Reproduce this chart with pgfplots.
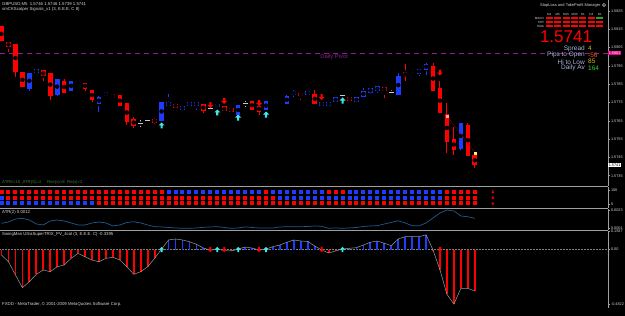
\documentclass[border=0pt]{standalone}
\usepackage{fontspec}
\setmainfont{Liberation Sans}
\usepackage{pgfplots}
\usepackage{pgfplotstable}
\pgfplotsset{compat=1.18}
\definecolor{mtred}{HTML}{FF0000}
\definecolor{mtblue}{HTML}{1E3CFF}
\definecolor{mtcyan}{HTML}{40E8E8}
\definecolor{mtgray}{HTML}{C8C8C8}
\definecolor{sep}{HTML}{A0A0A0}
\definecolor{pivot}{HTML}{8E1E8E}
\definecolor{atrc}{HTML}{1F5A8F}
\definecolor{lbl}{HTML}{D8D8D8}
\definecolor{statc}{HTML}{A8B4D8}
\definecolor{goldc}{HTML}{E0B020}
\definecolor{orc}{HTML}{FF5020}
\definecolor{grc}{HTML}{30D030}
\definecolor{dkgr}{HTML}{3C7A3C}
\newcommand\tf{\fontsize{4.3}{5}\selectfont}
\newcommand\af{\fontsize{3.8}{4}\selectfont}
\pgfdeclareplotmark{uarr}{%
 \pgfpathmoveto{\pgfqpoint{0pt}{\pgfplotmarksize}}%
 \pgfpathlineto{\pgfqpoint{\pgfplotmarksize}{0pt}}%
 \pgfpathlineto{\pgfqpoint{0.35\pgfplotmarksize}{0pt}}%
 \pgfpathlineto{\pgfqpoint{0.35\pgfplotmarksize}{-\pgfplotmarksize}}%
 \pgfpathlineto{\pgfqpoint{-0.35\pgfplotmarksize}{-\pgfplotmarksize}}%
 \pgfpathlineto{\pgfqpoint{-0.35\pgfplotmarksize}{0pt}}%
 \pgfpathlineto{\pgfqpoint{-\pgfplotmarksize}{0pt}}%
 \pgfpathclose\pgfusepathqfill}
\pgfdeclareplotmark{darr}{%
 \pgfpathmoveto{\pgfqpoint{0pt}{-\pgfplotmarksize}}%
 \pgfpathlineto{\pgfqpoint{\pgfplotmarksize}{0pt}}%
 \pgfpathlineto{\pgfqpoint{0.35\pgfplotmarksize}{0pt}}%
 \pgfpathlineto{\pgfqpoint{0.35\pgfplotmarksize}{\pgfplotmarksize}}%
 \pgfpathlineto{\pgfqpoint{-0.35\pgfplotmarksize}{\pgfplotmarksize}}%
 \pgfpathlineto{\pgfqpoint{-0.35\pgfplotmarksize}{0pt}}%
 \pgfpathlineto{\pgfqpoint{-\pgfplotmarksize}{0pt}}%
 \pgfpathclose\pgfusepathqfill}
\pgfdeclareplotmark{cell}{\pgfpathrectangle{\pgfqpoint{-3.5pt}{-1.2pt}}{\pgfqpoint{7pt}{2.4pt}}\pgfusepathqfill}
\pgfdeclareplotmark{sq}{\pgfpathrectangle{\pgfqpoint{-2pt}{-2pt}}{\pgfqpoint{4pt}{4pt}}\pgfusepathqfill}

\pgfplotstableread{
k o h l c
4 1.57828 1.57910 1.57815 1.57910
5 1.57915 1.57928 1.57900 1.57928
8 1.57796 1.57878 1.57787 1.57878
10 1.57818 1.57867 1.57818 1.57867
14 1.57746 1.57786 1.57700 1.57776
15 1.57786 1.57809 1.57786 1.57806
23 1.57654 1.57749 1.57654 1.57749
24 1.57738 1.57800 1.57738 1.57749
26 1.57714 1.57733 1.57714 1.57727
27 1.57736 1.57749 1.57736 1.57749
28 1.57736 1.57749 1.57710 1.57749
31 1.57727 1.57740 1.57727 1.57740
34 1.57682 1.57736 1.57682 1.57736
38 1.57714 1.57754 1.57714 1.57754
39 1.57747 1.57767 1.57747 1.57758
40 1.57747 1.57769 1.57747 1.57758
41 1.57747 1.57791 1.57747 1.57786
42 1.57796 1.57818 1.57782 1.57809
44 1.57796 1.57818 1.57796 1.57809
46 1.57736 1.57749 1.57736 1.57749
47 1.57736 1.57749 1.57736 1.57749
48 1.57754 1.57778 1.57754 1.57778
51 1.57754 1.57778 1.57754 1.57778
52 1.57786 1.57828 1.57786 1.57809
53 1.57804 1.57828 1.57796 1.57828
54 1.57815 1.57836 1.57804 1.57836
57 1.57796 1.57913 1.57796 1.57895
59 1.57888 1.57918 1.57888 1.57900
60 1.57910 1.57931 1.57895 1.57931
61 1.57933 1.57965 1.57900 1.57960
66 1.57500 1.57636 1.57490 1.57636
}\up
\pgfplotstableread{
k o h l c
0 1.58164 1.58170 1.58088 1.58088
1 1.58079 1.58082 1.58028 1.58057
2 1.58070 1.58070 1.57888 1.57918
3 1.57913 1.57918 1.57836 1.57836
6 1.57922 1.57928 1.57869 1.57896
7 1.57910 1.57915 1.57764 1.57787
9 1.57867 1.57877 1.57806 1.57806
11 1.57878 1.57878 1.57855 1.57866
12 1.57855 1.57858 1.57815 1.57828
13 1.57818 1.57822 1.57754 1.57767
16 1.57796 1.57796 1.57776 1.57776
17 1.57787 1.57787 1.57736 1.57736
18 1.57746 1.57750 1.57627 1.57645
19 1.57658 1.57672 1.57609 1.57623
22 1.57658 1.57664 1.57636 1.57645
25 1.57740 1.57749 1.57718 1.57724
29 1.57740 1.57740 1.57691 1.57705
32 1.57727 1.57727 1.57705 1.57705
33 1.57718 1.57718 1.57705 1.57705
36 1.57758 1.57758 1.57714 1.57714
37 1.57727 1.57760 1.57683 1.57704
43 1.57800 1.57800 1.57764 1.57787
45 1.57796 1.57818 1.57746 1.57746
50 1.57778 1.57786 1.57764 1.57764
55 1.57831 1.57831 1.57778 1.57815
58 1.57913 1.57960 1.57869 1.57896
62 1.57949 1.57964 1.57815 1.57815
63 1.57828 1.57869 1.57696 1.57696
64 1.57687 1.57749 1.57472 1.57536
65 1.57545 1.57614 1.57463 1.57494
67 1.57627 1.57636 1.57463 1.57463
68 1.57460 1.57460 1.57390 1.57410
}\dn
\pgfplotstableread{
k o h l c
20 1.57636 1.57654 1.57614 1.57636
21 1.57649 1.57658 1.57643 1.57649
30 1.57718 1.57727 1.57710 1.57718
35 1.57746 1.57760 1.57727 1.57746
49 1.57787 1.57800 1.57778 1.57787
56 1.57805 1.57818 1.57791 1.57805
}\dj
\pgfplotstableread{
k atr v r1 r2 r3
0 0.00070 -0.049 r b b
1 0.00086 -0.108 r r b
2 0.00122 -0.225 r r b
3 0.00130 -0.337 r r b
4 0.00110 -0.284 r r b
5 0.00062 -0.219 r r b
6 0.00050 -0.181 r r b
7 0.00098 -0.196 r r b
8 0.00110 -0.152 r r b
9 0.00098 -0.137 r r b
10 0.00074 -0.078 r r b
11 0.00050 -0.034 r r b
12 0.00050 -0.064 r r b
13 0.00074 -0.093 r r b
14 0.00086 -0.108 r r r
15 0.00074 -0.078 r r r
16 0.00038 -0.069 r r r
17 0.00050 -0.093 r r r
18 0.00080 -0.152 r r r
19 0.00089 -0.219 r r r
20 0.00074 -0.196 r r r
21 0.00050 -0.152 r r r
22 0.00029 -0.078 r r r
23 0.00026 0.005 r r r
24 0.00020 0.084 b r r
25 0.00014 0.093 b r r
26 0.00010 0.084 b r r
27 0.00010 0.069 b r r
28 0.00014 0.046 b r r
29 0.00022 0.013 b r r
30 0.00026 -0.005 b r r
31 0.00029 0.004 b r r
32 0.00020 -0.010 b r r
33 0.00010 -0.013 b r r
34 0.00014 0.003 b r r
35 0.00026 0.022 b r r
36 0.00020 0.013 b r r
37 0.00014 -0.004 b r r
38 0.00014 0.004 r r r
39 0.00014 0.025 b r r
40 0.00026 0.040 b b r
41 0.00029 0.064 b b r
42 0.00029 0.084 b b r
43 0.00029 0.075 b b r
44 0.00032 0.071 b b r
45 0.00038 0.031 b b r
46 0.00034 -0.004 b b r
47 0.00010 -0.031 r b r
48 0.00014 -0.013 r b r
49 0.00010 0.004 r b r
50 0.00014 0.011 b b r
51 0.00020 0.016 b b r
52 0.00032 0.040 b b r
53 0.00038 0.064 b b r
54 0.00041 0.075 b b r
55 0.00062 0.055 b b r
56 0.00080 0.034 b b r
57 0.00101 0.093 b b r
58 0.00074 0.113 b b r
59 0.00041 0.113 b b r
60 0.00041 0.113 b b r
61 0.00074 0.130 b b r
62 0.00134 -0.005 b b r
63 0.00194 -0.181 b b r
64 0.00230 -0.396 r r r
65 0.00218 -0.482 r r r
66 0.00158 -0.343 r r r
67 0.00149 -0.343 r r r
68 0.00130 -0.366 r r r
}\ind

\pgfplotsset{
 mtaxis/.style={scale only axis, width=608pt, xmin=-0.22, xmax=87.14,
  anchor=south west, axis x line=none, axis y line*=right,
  y axis line style={draw=sep, line width=1pt},
  tick align=outside, major tick length=2pt,
  ytick style={draw=sep, line width=0.5pt},
  yticklabel style={font=\af, text=lbl, inner sep=0.8pt},
  scaled y ticks=false, clip mode=individual},
 wick/.style={only marks, mark=none, forget plot, error bars/.cd, y dir=both, y explicit, error mark=none, error bar style={line width=1pt, draw=#1}},
 body/.style={only marks, mark=none, forget plot, error bars/.cd, y dir=both, y explicit, error mark=none, error bar style={line width=4.6pt, draw=#1}},
 dotrow/.style={scatter, only marks, point meta=explicit symbolic, scatter/classes={r={mark=sq,mtred}, b={mark=sq,mtblue}}}
}

\begin{document}
\begin{tikzpicture}
\fill[black] (0,0) rectangle (625pt,316pt);
% ---------------- main price panel
\begin{axis}[mtaxis, at={(0pt,130pt)}, height=186pt, ymin=1.572937, ymax=1.583101,
 ytick={1.5735,1.5745,1.5755,1.5765,1.5775,1.5785,1.5795,1.5805,1.5815,1.5825},
 yticklabels={1.5735,1.5745,1.5755,1.5765,1.5775,1.5785,1.5795,1.5805,1.5815,1.5825}]
\addplot[pivot, line width=0.8pt, dash pattern=on 5pt off 4pt] coordinates {(-0.22,1.5802) (87.14,1.5802)};
\addplot[wick=mtblue] table[x=k, y expr={(\thisrow{h}+\thisrow{l})/2}, y error expr={(\thisrow{h}-\thisrow{l})/2}] {\up};
\addplot[body=mtblue] table[x=k, y expr={(\thisrow{o}+\thisrow{c})/2}, y error expr={abs(\thisrow{c}-\thisrow{o})/2+0.00003}] {\up};
\addplot[wick=mtred] table[x=k, y expr={(\thisrow{h}+\thisrow{l})/2}, y error expr={(\thisrow{h}-\thisrow{l})/2}] {\dn};
\addplot[body=mtred] table[x=k, y expr={(\thisrow{o}+\thisrow{c})/2}, y error expr={abs(\thisrow{c}-\thisrow{o})/2+0.00003}] {\dn};
\addplot[wick=mtgray] table[x=k, y expr={(\thisrow{h}+\thisrow{l})/2}, y error expr={(\thisrow{h}-\thisrow{l})/2}] {\dj};
\addplot[only marks, mark=-, mark size=2.6pt, mtgray, mark options={line width=1pt}] table[x=k, y=c] {\dj};
\addplot[only marks, mark=uarr, mark size=3pt, mtcyan] coordinates {(23,1.576243) (31,1.576954) (34,1.57668) (38,1.576844) (49,1.577609)};
\addplot[only marks, mark=darr, mark size=3pt, mtred] coordinates {(30,1.577363) (32,1.577582) (37,1.577473) (46,1.5778) (63,1.579139)};
\addplot[densely dotted, color=red!55!black, line width=0.8pt] coordinates {(64,1.57676) (68.1,1.57472)};
\addplot[only marks, mark=square*, mark size=1.2pt, color=red!35!white] coordinates {(64,1.57676)};
\addplot[only marks, mark=square*, mark size=1.2pt, color=yellow!60!white] coordinates {(68.1,1.57472)};
\node[text=pivot, font=\fontsize{5.8}{6}\selectfont, anchor=west, inner sep=0] at (axis cs:45.8,1.57999) {Daily Pivot};
\node[fill=magenta, text=white, font=\af, anchor=west, inner sep=0.6pt] at (axis cs:87.14,1.5802) {1.5802};
\node[fill=white, text=black, font=\af, anchor=west, inner sep=0.6pt] at (axis cs:87.14,1.5741) {1.5741};
\end{axis}
% ---------------- signal widget (top right)
\begin{axis}[hide axis, scale only axis, width=59pt, height=12pt, xmin=0.5, xmax=7.5, ymin=0.5, ymax=3.5, at={(545pt,288pt)}, anchor=south west, clip=false]
\addplot[only marks, mark=cell, mtred] coordinates {(1,1)(2,1)(3,1)(4,1)(5,1)(6,1)(7,1)(1,2)(2,2)(3,2)(4,2)(5,2)(6,2)(7,2)(1,3)(2,3)(3,3)(4,3)(5,3)(6,3)};
\addplot[only marks, mark=cell, color=grc!80!black] coordinates {(7,3)};
\end{axis}
% ---------------- dots panel
\begin{axis}[mtaxis, at={(0pt,108pt)}, height=21pt, ymin=-25.9, ymax=123.1, ytick={0,100}, yticklabels={0,100}]
\addplot[dotrow] table[x=k, y expr=89, meta=r1] {\ind};
\addplot[dotrow] table[x=k, y expr=47, meta=r2] {\ind};
\addplot[dotrow] table[x=k, y expr=7, meta=r3] {\ind};
\addplot[only marks, mark=darr, mark size=1.6pt, mtred] coordinates {(70.6,89) (70.6,47) (70.6,7)};
\end{axis}
% ---------------- ATR panel
\begin{axis}[mtaxis, at={(0pt,86pt)}, height=21pt, ymin=-0.000104, ymax=0.00242, ytick={0.0001,0.0023}, yticklabels={0.0001,0.0023}]
\addplot[atrc, line width=0.7pt] table[x=k, y=atr] {\ind};
\end{axis}
% ---------------- oscillator panel
\begin{axis}[mtaxis, at={(0pt,8pt)}, height=77pt, ymin=-0.5166, ymax=0.1634,
 ytick={-0.4822,0,0.1587}, yticklabels={-0.4822,0.00,0.1587},
 axis x line*=bottom, x axis line style={draw=sep, line width=1pt},
 xtick={0,4,...,68}, xtick style={draw=sep, line width=0.5pt},
 xticklabels={13 Oct 2009,13 Oct 04:10,13 Oct 04:30,13 Oct 04:50,13 Oct 05:10,13 Oct 05:30,13 Oct 05:50,13 Oct 06:15,13 Oct 06:35,13 Oct 06:55,13 Oct 07:15,13 Oct 07:35,13 Oct 07:55,13 Oct 08:15,13 Oct 08:35,13 Oct 08:55,13 Oct 09:15,13 Oct 09:35},
 xticklabel style={font=\tf, text=lbl, anchor=north west, inner sep=0.5pt, xshift=0.3pt}]
\addplot[gray, densely dotted, line width=0.5pt] coordinates {(-0.22,0) (87.14,0)};
\addplot[ycomb, mtred, line width=1.8pt, restrict y to domain=-1:0] table[x=k, y=v] {\ind};
\addplot[ycomb, mtblue, line width=1.8pt, restrict y to domain=0:1] table[x=k, y=v] {\ind};
\addplot[color=gray!80, line width=0.5pt] table[x=k, y=v] {\ind};
\addplot[only marks, mark=uarr, mark size=2.6pt, mtcyan] coordinates {(23,0) (31,0) (34,0) (38,0) (49,0)};
\addplot[only marks, mark=darr, mark size=2.6pt, mtred] coordinates {(30,0) (32,0) (37,0) (46,0) (63,0)};
\end{axis}
% ---------------- separators
\draw[sep, line width=1.5pt] (0,129.5pt) -- (608pt,129.5pt);
\draw[sep, line width=1.5pt] (0,107.5pt) -- (608pt,107.5pt);
\draw[sep, line width=1.5pt] (0,85.5pt) -- (608pt,85.5pt);
% ---------------- texts
\node[anchor=west, font=\tf, text=lbl, inner sep=0] at (2pt,312pt) {GBPUSD,M5\ \ 1.5746 1.5746 1.5739 1.5741};
\node[anchor=west, font=\tf, text=lbl, inner sep=0] at (2pt,306.5pt) {smCKScalper Signals\_v1 (3, E.E.E. C 8)};
\node[anchor=west, font=\tf, text=dkgr, inner sep=0] at (2pt,133.3pt) {ATR5=10\ \ ATR(5)=4};
\node[anchor=west, font=\tf, text=dkgr, inner sep=0] at (47pt,133.3pt) {Res(x)=8\ \ Re(x)=2};
\node[anchor=west, font=\tf, text=lbl, inner sep=0] at (2pt,103.3pt) {ATR(2) 0.0012};
\node[anchor=west, font=\tf, text=lbl, inner sep=0] at (2pt,82pt) {SwingMan UltraSuperTRIX\_PV\_4col (3, E.E.E. C) -0.3395};
\node[anchor=west, font=\tf, text=lbl, inner sep=0] at (2pt,11.3pt) {FXDD - MetaTrader, © 2001-2009 MetaQuotes Software Corp.};
% widget texts
\node[anchor=west, font=\fontsize{4}{4}\selectfont, text=lbl, inner sep=0] at (540pt,311pt) {StopLoss and TakeProfit Manager};
\draw[lbl, line width=0.5pt] (604pt,311pt) circle (1.6pt);
\node[font=\fontsize{3}{3}\selectfont, text=lbl, inner sep=0] at (549.2pt,302pt) {M1};
\node[font=\fontsize{3}{3}\selectfont, text=lbl, inner sep=0] at (557.6pt,302pt) {M5};
\node[font=\fontsize{3}{3}\selectfont, text=lbl, inner sep=0] at (566.1pt,302pt) {M15};
\node[font=\fontsize{3}{3}\selectfont, text=lbl, inner sep=0] at (574.5pt,302pt) {M30};
\node[font=\fontsize{3}{3}\selectfont, text=lbl, inner sep=0] at (582.9pt,302pt) {H1};
\node[font=\fontsize{3}{3}\selectfont, text=lbl, inner sep=0] at (591.4pt,302pt) {H4};
\node[font=\fontsize{3}{3}\selectfont, text=lbl, inner sep=0] at (599.8pt,302pt) {D1};
\node[anchor=east, font=\fontsize{3}{3}\selectfont, text=lbl, inner sep=0] at (544pt,298pt) {MACD};
\node[anchor=east, font=\fontsize{3}{3}\selectfont, text=lbl, inner sep=0] at (544pt,294pt) {STR};
\node[anchor=east, font=\fontsize{3}{3}\selectfont, text=lbl, inner sep=0] at (544pt,290pt) {EMA};
\node[text=mtred, font=\fontsize{17}{17}\selectfont, inner sep=0] at (566pt,279.5pt) {1.5741};
\node[anchor=east, text=statc, font=\fontsize{6.5}{7}\selectfont, inner sep=0] at (585pt,267.3pt) {Spread};
\node[anchor=west, text=goldc, font=\fontsize{6.5}{7}\selectfont, inner sep=0] at (588pt,267.3pt) {4};
\node[anchor=east, text=statc, font=\fontsize{6.5}{7}\selectfont, inner sep=0] at (585pt,261pt) {Pips to Open};
\node[anchor=west, text=orc, font=\fontsize{6.5}{7}\selectfont, inner sep=0] at (588pt,261pt) {-56};
\node[anchor=east, text=statc, font=\fontsize{6.5}{7}\selectfont, inner sep=0] at (585pt,254.3pt) {Hi to Low};
\node[anchor=west, text=goldc, font=\fontsize{6.5}{7}\selectfont, inner sep=0] at (588pt,254.3pt) {85};
\node[anchor=east, text=statc, font=\fontsize{6.5}{7}\selectfont, inner sep=0] at (585pt,247.7pt) {Daily Av};
\node[anchor=west, text=grc, font=\fontsize{6.5}{7}\selectfont, inner sep=0] at (588pt,247.7pt) {164};
\pgfresetboundingbox
\useasboundingbox (0,0) rectangle (625pt,316pt);
\end{tikzpicture}
\end{document}
